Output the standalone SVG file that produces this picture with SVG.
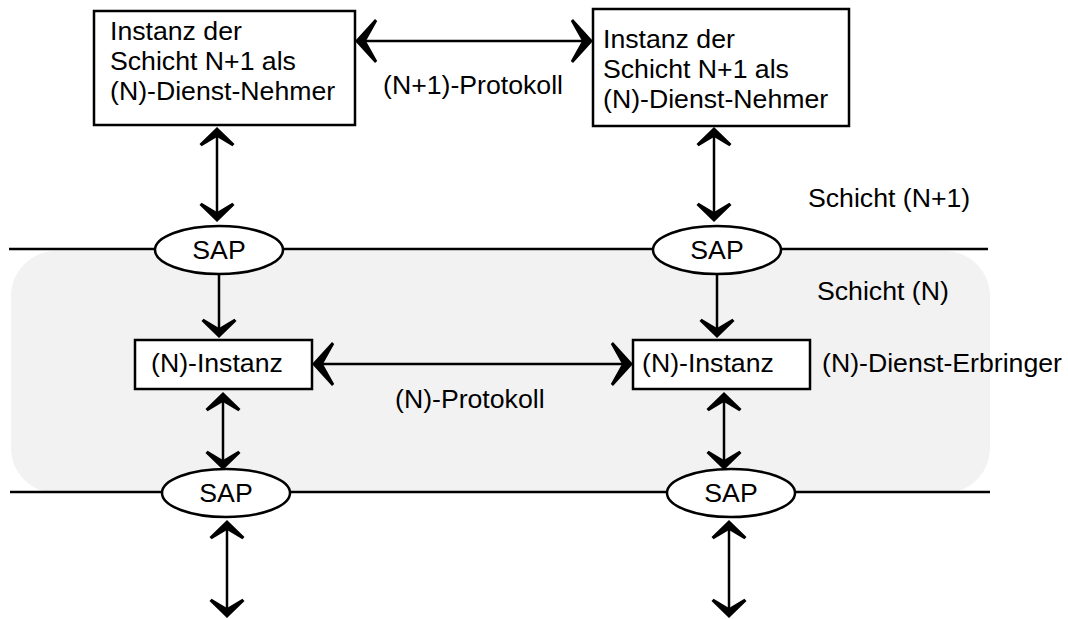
<svg xmlns="http://www.w3.org/2000/svg" width="1068" height="619" viewBox="0 0 1068 619">
<style>
  text { font-family: "Liberation Sans", Arial, sans-serif; font-size: 26.67px; fill: #000; }
  .box { fill: #fff; stroke: #000; stroke-width: 2.5; }
  .sap { fill: #fff; stroke: #000; stroke-width: 2.5; }
  .layer { stroke: #000; stroke-width: 2.5; fill: none; }
  .conn { stroke: #000; stroke-width: 2.5; fill: none; }
  .big { marker-start: url(#headL); marker-end: url(#headL); }
  .dbl { marker-start: url(#headS); marker-end: url(#headS); }
  .one { marker-end: url(#headS); }
  .mid { text-anchor: middle; }
</style>
<defs>
  <marker id="headL" markerUnits="userSpaceOnUse" viewBox="-26 -26 32 52" refX="-4" refY="0" markerWidth="32" markerHeight="52" orient="auto-start-reverse" overflow="visible">
    <path d="M0,0 L-20,-22 L-22.2,-20 L-11,0 L-22.2,20 L-20,22 Z" fill="#000"/>
  </marker>
  <marker id="headS" markerUnits="userSpaceOnUse" viewBox="-24 -22 30 44" refX="-4" refY="0" markerWidth="30" markerHeight="44" orient="auto-start-reverse" overflow="visible">
    <path d="M0,0 L-17,-17.5 L-19.3,-15.4 L-10,0 L-19.3,15.4 L-17,17.5 Z" fill="#000"/>
  </marker>
</defs>

<g id="layer-n">
  <rect x="11" y="251" width="979" height="242" rx="45" ry="45" fill="#f2f2f2"/>
</g>

<g id="layer-lines">
  <line class="layer" x1="9" y1="249" x2="988" y2="249"/>
  <line class="layer" x1="10" y1="492" x2="990" y2="492"/>
</g>

<g id="connectors">
  <line class="conn big" x1="359" y1="41" x2="589" y2="41"/>
  <line class="conn dbl" x1="217" y1="131" x2="217" y2="218"/>
  <line class="conn dbl" x1="714" y1="131" x2="714" y2="218"/>
  <line class="conn one" x1="219" y1="274" x2="219" y2="334"/>
  <line class="conn one" x1="717" y1="274" x2="717" y2="334"/>
  <line class="conn big" x1="316" y1="364" x2="629" y2="364"/>
  <line class="conn dbl" x1="223" y1="396" x2="223" y2="466"/>
  <line class="conn dbl" x1="724" y1="396" x2="724" y2="466"/>
  <line class="conn dbl" x1="227" y1="524" x2="227" y2="614"/>
  <line class="conn dbl" x1="729" y1="524" x2="729" y2="614"/>
</g>

<g id="node-n1-left">
  <rect class="box" x="94" y="11" width="261" height="114"/>
  <text x="110" y="40">Instanz der</text>
  <text x="110" y="70">Schicht N+1 als</text>
  <text x="110" y="100">(N)-Dienst-Nehmer</text>
</g>

<g id="node-n1-right">
  <rect class="box" x="593" y="9" width="256" height="117"/>
  <text x="603" y="48">Instanz der</text>
  <text x="603" y="78">Schicht N+1 als</text>
  <text x="603" y="108">(N)-Dienst-Nehmer</text>
</g>

<g id="sap-top-left">
  <ellipse class="sap" cx="219" cy="250" rx="64" ry="24"/>
  <text class="mid" x="219" y="259">SAP</text>
</g>
<g id="sap-top-right">
  <ellipse class="sap" cx="717" cy="250" rx="64" ry="24"/>
  <text class="mid" x="717" y="259">SAP</text>
</g>

<g id="node-n-left">
  <rect class="box" x="135" y="340" width="177" height="49"/>
  <text x="151" y="372">(N)-Instanz</text>
</g>
<g id="node-n-right">
  <rect class="box" x="633" y="340" width="177" height="49"/>
  <text x="642" y="372">(N)-Instanz</text>
</g>

<g id="sap-bottom-left">
  <ellipse class="sap" cx="226" cy="493" rx="64" ry="24"/>
  <text class="mid" x="226" y="502">SAP</text>
</g>
<g id="sap-bottom-right">
  <ellipse class="sap" cx="731" cy="493" rx="64" ry="24"/>
  <text class="mid" x="731" y="502">SAP</text>
</g>

<g id="labels">
  <text x="383" y="94">(N+1)-Protokoll</text>
  <text x="808" y="207">Schicht (N+1)</text>
  <text x="817" y="300">Schicht (N)</text>
  <text x="822" y="372">(N)-Dienst-Erbringer</text>
  <text x="395" y="408">(N)-Protokoll</text>
</g>
</svg>
